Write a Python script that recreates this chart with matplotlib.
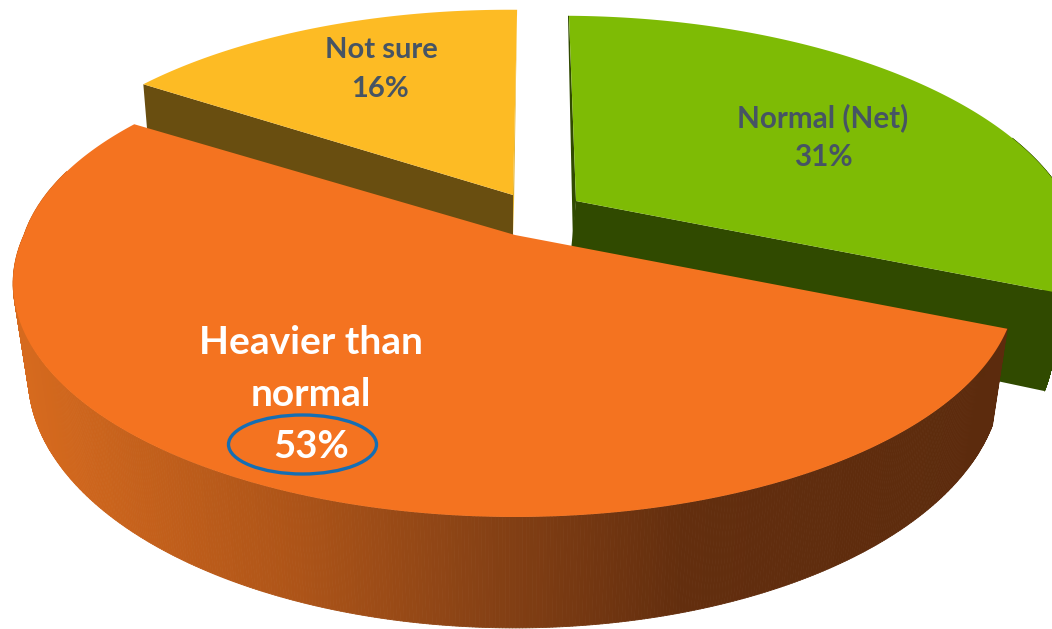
import numpy as np
import matplotlib
matplotlib.use("Agg")
import matplotlib.pyplot as plt
from matplotlib.collections import PolyCollection
from matplotlib.colors import LinearSegmentedColormap
from matplotlib.patches import Ellipse


labels = ["Heavier than", "normal", "Not sure", "Normal (Net)"]
values = [53, 16, 31]
percent_labels = ["53%", "16%", "31%"]

top_colors = ["#F47320", "#FDBB24", "#7EBB05"]
wall_colors = ["#5F2C0D", "#694E10", "#304A00"]

plt.rcParams["font.family"] = ["Lato", "DejaVu Sans"]

# fake 3d pie: perspective squashed circle, in picture pixels
WIDTH = 491
HEIGHT = 223.6
PERSP = 0.207
SHRINK = 0.97
DROP_H = 241
DROP = 89
START = -22.7

apex_x = [515, 513, 576]
apex_y = [235, 195, 201]
lean = [0.12, 0.02, 0.08]
low_shift = [0, 0, -9]


def rim(theta, ax0, ay0, k, scale=1.0, height=HEIGHT):
    t = np.radians(theta)
    c = 1 + PERSP * np.sin(t)
    dy = np.sin(t) / c
    # only the back half leans over
    dx = WIDTH * np.cos(t) / c - k * HEIGHT * np.maximum(dy, 0)
    return ax0 + scale * dx, ay0 - height * dy


fig = plt.figure(figsize=(10.52, 6.29), dpi=100)
ax = fig.add_axes([0, 0, 1, 1])
ax.set_xlim(0, 1052)
ax.set_ylim(629, 0)
ax.axis("off")

shade = LinearSegmentedColormap.from_list(
    "shade",
    [(0.0, "#D66A1E"), (0.28, "#AD5418"), (0.47, "#884215"), (0.68, "#632E0E"), (1.0, "#5C2B0D")],
)

# start / end angle of every slice, clockwise from the right hand cut
ends = START - 3.6 * np.cumsum(values)
starts = np.concatenate([[START], ends[:-1]])

for i in [2, 1, 0]:
    theta = np.linspace(starts[i], ends[i], 600)
    x_top, y_top = rim(theta, apex_x[i], apex_y[i], lean[i])
    low_x = apex_x[i] + low_shift[i]
    low_y = apex_y[i] + DROP
    x_low, y_low = rim(theta, low_x, low_y, lean[i], SHRINK, DROP_H)

    # outer side as small quads so the silhouette stays right, front part only
    quads = []
    side_colors = []
    for j in range(len(theta) - 1):
        if np.sin(np.radians(theta[j])) > 0.3:
            continue
        quads.append([
            (x_top[j], y_top[j]), (x_top[j + 1], y_top[j + 1]),
            (x_low[j + 1], y_low[j + 1]), (x_low[j], y_low[j]),
        ])
        if i == 0:
            side_colors.append(shade(np.clip((x_top[j] - 20) / 980, 0, 1)))
        else:
            side_colors.append(wall_colors[i])
    if quads:
        ax.add_collection(PolyCollection(quads, facecolors=side_colors, edgecolors="face", linewidths=0.6))

    # flat walls along the cuts
    if i == 2:
        ax.fill([x_top[-1], apex_x[i], low_x, x_low[-1]],
                [y_top[-1], apex_y[i], low_y, y_low[-1]], color=wall_colors[i], lw=0)
        ax.fill([x_top[0], apex_x[i], apex_x[i] - 3, x_top[0] - 1],
                [y_top[0], apex_y[i], apex_y[i] + 45, y_top[0]], color=wall_colors[i], lw=0)
    if i == 1:
        ax.fill([x_top[0], apex_x[i], apex_x[i], x_top[0] + 4],
                [y_top[0], apex_y[i], apex_y[i] + 45, y_top[0] + 48],
                color=wall_colors[i], lw=0)
        ax.fill([x_top[-1], apex_x[i], apex_x[i] + 0.5, x_top[-1]],
                [y_top[-1], apex_y[i], apex_y[i] + 40, y_top[-1]], color="#E0AD22", lw=0)

    ax.fill(np.r_[apex_x[i], x_top], np.r_[apex_y[i], y_top], color=top_colors[i], lw=0)

ax.text(311, 343, labels[0], color="white", fontsize=28, fontweight="bold", ha="center", va="center")
ax.text(311, 394, labels[1], color="white", fontsize=28, fontweight="bold", ha="center", va="center")
ax.text(311, 447, percent_labels[0], color="white", fontsize=27.5, fontweight="bold", ha="center", va="center")
ax.add_patch(Ellipse((302.5, 444.5), 148, 59, fill=False, edgecolor="#156EB4", lw=2.4))

ax.text(381, 50, labels[2], color="#465464", fontsize=21, fontweight="bold", ha="center", va="center")
ax.text(380, 89, percent_labels[1], color="#465464", fontsize=21, fontweight="bold", ha="center", va="center")

ax.text(823, 118, labels[3], color="#465464", fontsize=21.3, fontweight="bold", ha="center", va="center")
ax.text(823, 157, percent_labels[2], color="#465464", fontsize=21.3, fontweight="bold", ha="center", va="center")

plt.savefig("out.png", dpi=100)
plt.close()
